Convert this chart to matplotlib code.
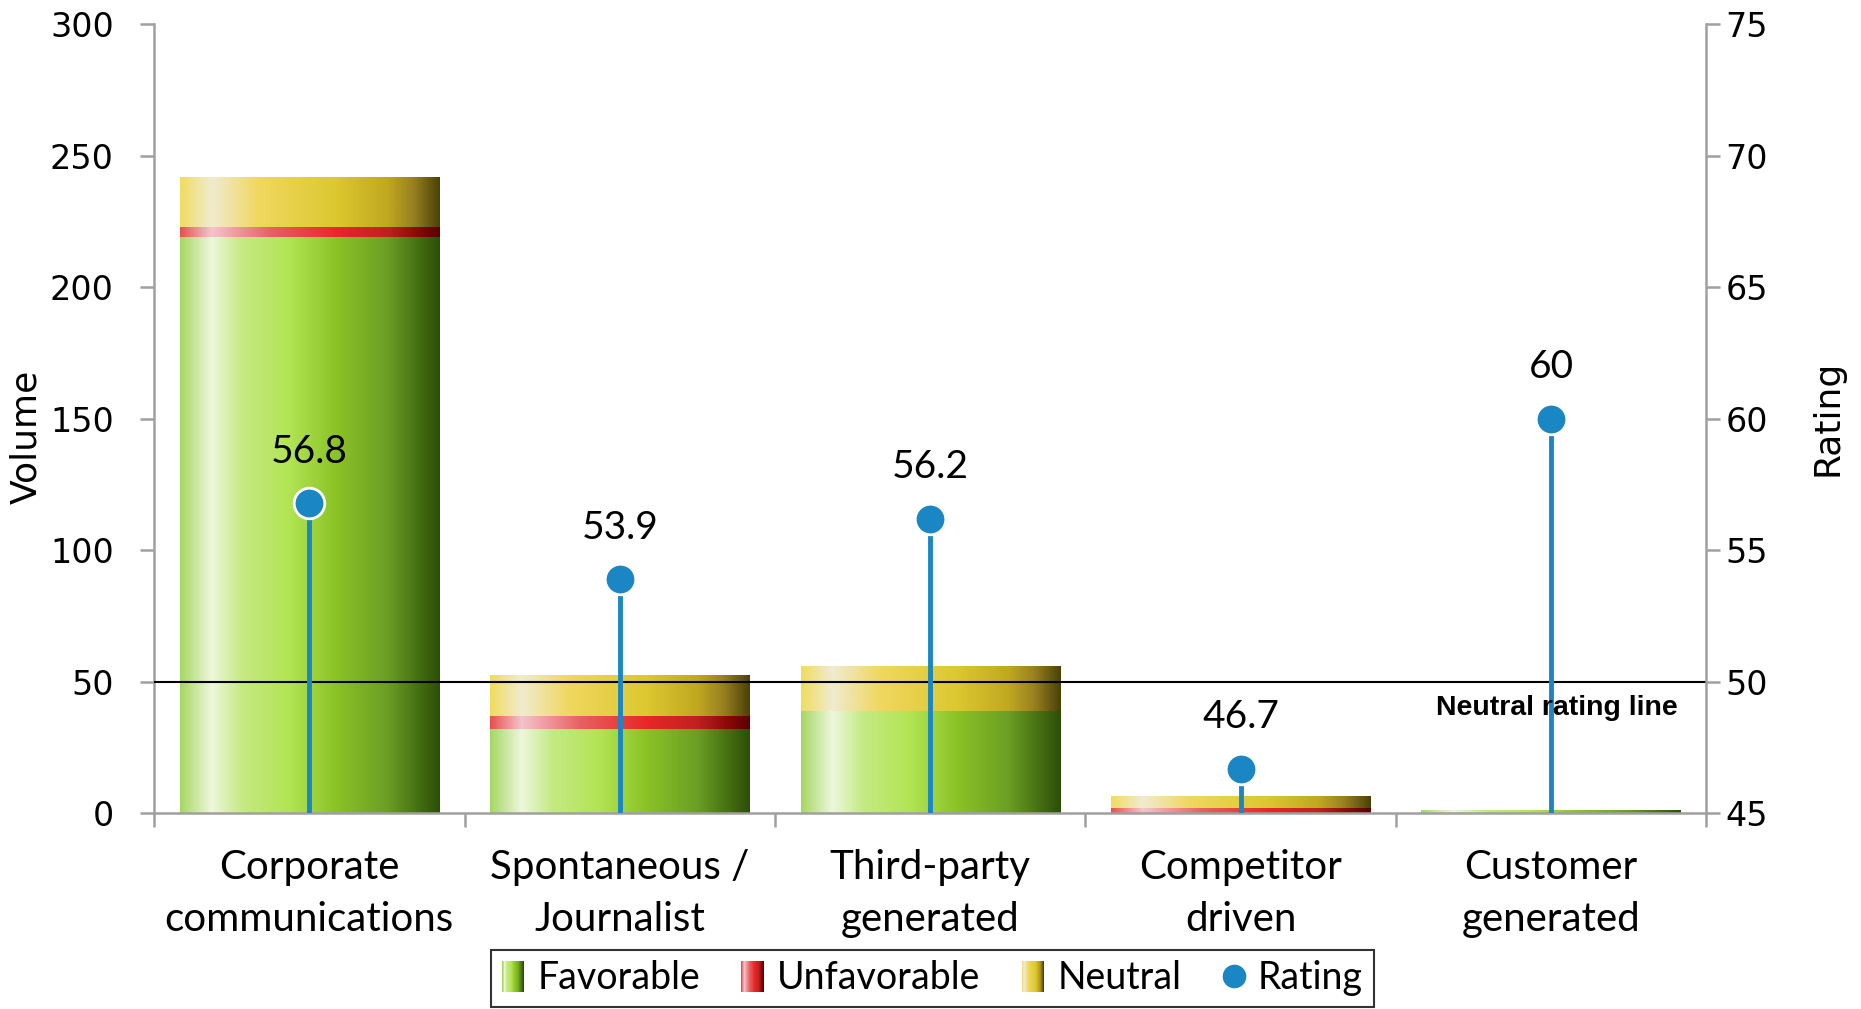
import numpy as np
import matplotlib
matplotlib.use('Agg')
import matplotlib.pyplot as plt
from matplotlib.colors import LinearSegmentedColormap
from matplotlib.legend_handler import HandlerBase
from matplotlib.patches import Rectangle
from matplotlib.lines import Line2D

# volume per source, stacked favorable / unfavorable / neutral
categories = ['Corporate\ncommunications', 'Spontaneous /\nJournalist',
              'Third-party\ngenerated', 'Competitor\ndriven', 'Customer\ngenerated']
favorable = [219, 32, 39, 0, 1]
unfavorable = [4, 5, 0, 2, 0]
neutral = [19, 15.5, 17, 4.5, 0]
rating = [56.8, 53.9, 56.2, 46.7, 60]
neutral_rating = 50

AXIS_GRAY = '#a0a0a0'
RATING_BLUE = '#1a86c4'

green_cmap = LinearSegmentedColormap.from_list('fav', [
    (0.0, '#a6d764'), (0.12, '#eef7dc'), (0.24, '#c4ea82'), (0.42, '#b2e454'),
    (0.6, '#8bc326'), (0.8, '#6b9e24'), (1.0, '#2c4f06')])
red_cmap = LinearSegmentedColormap.from_list('unfav', [
    (0.0, '#e85050'), (0.12, '#f4c4cc'), (0.35, '#e86060'), (0.6, '#e82828'),
    (0.8, '#c02020'), (0.92, '#880808'), (1.0, '#5a0000')])
yellow_cmap = LinearSegmentedColormap.from_list('neut', [
    (0.0, '#f0dc60'), (0.12, '#f0ebd0'), (0.3, '#f0d860'), (0.6, '#dcc830'),
    (0.8, '#c0a820'), (0.9, '#988020'), (1.0, '#4a4208')])


class GradientHandler(HandlerBase):
    def __init__(self, cmap, n=24):
        super().__init__()
        self.cmap = cmap
        self.n = n

    def create_artists(self, legend, orig_handle, xdescent, ydescent,
                       width, height, fontsize, trans):
        artists = []
        step = width / self.n
        for k in range(self.n):
            r = Rectangle((-xdescent + k * step, -ydescent - 0.1 * height), step * 1.05,
                          height * 1.2, facecolor=self.cmap(k / (self.n - 1)),
                          edgecolor='none', transform=trans)
            artists.append(r)
        return artists


def gradient_bars(ax, bars, cmap):
    grad = np.linspace(0, 1, 256).reshape(1, -1)
    for p in bars.patches:
        h = p.get_height()
        if h <= 0:
            continue
        x0, y0, w = p.get_x(), p.get_y(), p.get_width()
        ax.imshow(grad, cmap=cmap, extent=(x0, x0 + w, y0, y0 + h),
                  aspect='auto', interpolation='bicubic', zorder=2)


fig = plt.figure(figsize=(18.61, 10.09), dpi=100)
ax = fig.add_axes([0.0828, 0.194, 0.834, 0.782])
ax2 = ax.twinx()

x = np.arange(len(categories))
width = 0.835
fav = np.array(favorable, dtype=float)
unf = np.array(unfavorable, dtype=float)
neu = np.array(neutral, dtype=float)

b1 = ax.bar(x, fav, width, color='none', edgecolor='none')
b2 = ax.bar(x, unf, width, bottom=fav, color='none', edgecolor='none')
b3 = ax.bar(x, neu, width, bottom=fav + unf, color='none', edgecolor='none')
gradient_bars(ax, b1, green_cmap)
gradient_bars(ax, b2, red_cmap)
gradient_bars(ax, b3, yellow_cmap)

ax.set_xlim(-0.5, len(categories) - 0.5)
ax.set_ylim(0, 300)
ax.set_yticks(np.arange(0, 301, 50))

# rating lollipops on the secondary axis
ax2.set_ylim(45, 75)
ax2.set_yticks(np.arange(45, 76, 5))
ax2.axhline(neutral_rating, color='black', lw=1.5, zorder=2)
ax2.vlines(x, 45, rating, color=RATING_BLUE, lw=3.5, zorder=3)
ax2.plot(x, rating, 'o', ms=22, mfc=RATING_BLUE, mec='white', mew=2, zorder=4)
for i, r in enumerate(rating):
    ax2.annotate(f'{r:g}', (i, r), xytext=(0, 37), textcoords='offset points',
                 ha='center', va='center', fontsize=28, family='Lato')
ax2.text(4.02, 49.0, 'Neutral rating line', ha='center', va='center',
         fontsize=20.5, fontweight='bold', family='Liberation Sans', zorder=5)

# axes styling
for a in (ax, ax2):
    a.spines['top'].set_visible(False)
ax.spines['right'].set_visible(False)
ax2.spines['left'].set_visible(False)
ax2.spines['bottom'].set_visible(False)
for s in ('left', 'bottom'):
    ax.spines[s].set_color(AXIS_GRAY)
    ax.spines[s].set_linewidth(1.8)
ax2.spines['right'].set_color(AXIS_GRAY)
ax2.spines['right'].set_linewidth(1.8)

ax.set_xticks(x)
ax.set_xticklabels(categories, fontsize=29, family='Lato', linespacing=1.5)
ax.tick_params(axis='x', which='major', length=0, pad=26)
ax.set_xticks(np.arange(-0.5, len(categories), 1), minor=True)
ax.tick_params(axis='x', which='minor', length=10, width=1.8, color=AXIS_GRAY)
ax.tick_params(axis='y', length=10, width=1.8, color=AXIS_GRAY, pad=19, labelsize=24)
ax2.tick_params(axis='y', length=10, width=1.8, color=AXIS_GRAY, pad=4, labelsize=24)

fig.text(26 / 1861, 0.567, 'Volume', rotation=90, ha='center', va='center',
         fontsize=26, family='Liberation Sans Narrow')
fig.text(1828 / 1861, 0.586, 'Rating', rotation=90, ha='center', va='center',
         fontsize=26, family='Liberation Sans Narrow')

# legend with gradient swatches
h_fav = Rectangle((0, 0), 1, 1)
h_unf = Rectangle((0, 0), 1, 1)
h_neu = Rectangle((0, 0), 1, 1)
h_rat = Line2D([], [], marker='o', ls='none', ms=17, mfc=RATING_BLUE, mec='none')
leg = fig.legend([h_fav, h_unf, h_neu, h_rat], ['Favorable', 'Unfavorable', 'Neutral', 'Rating'],
                 handler_map={h_fav: GradientHandler(green_cmap),
                              h_unf: GradientHandler(red_cmap),
                              h_neu: GradientHandler(yellow_cmap)},
                 loc='lower center', bbox_to_anchor=(0.501, 0.002), ncol=4,
                 prop={'family': 'Lato', 'size': 27}, frameon=True, fancybox=False,
                 edgecolor='black', handlelength=0.6, handletextpad=0.35,
                 columnspacing=1.1, borderpad=0.28, borderaxespad=0)
leg.get_frame().set_linewidth(1.5)

fig.savefig('out.png', dpi=100, facecolor='white')
